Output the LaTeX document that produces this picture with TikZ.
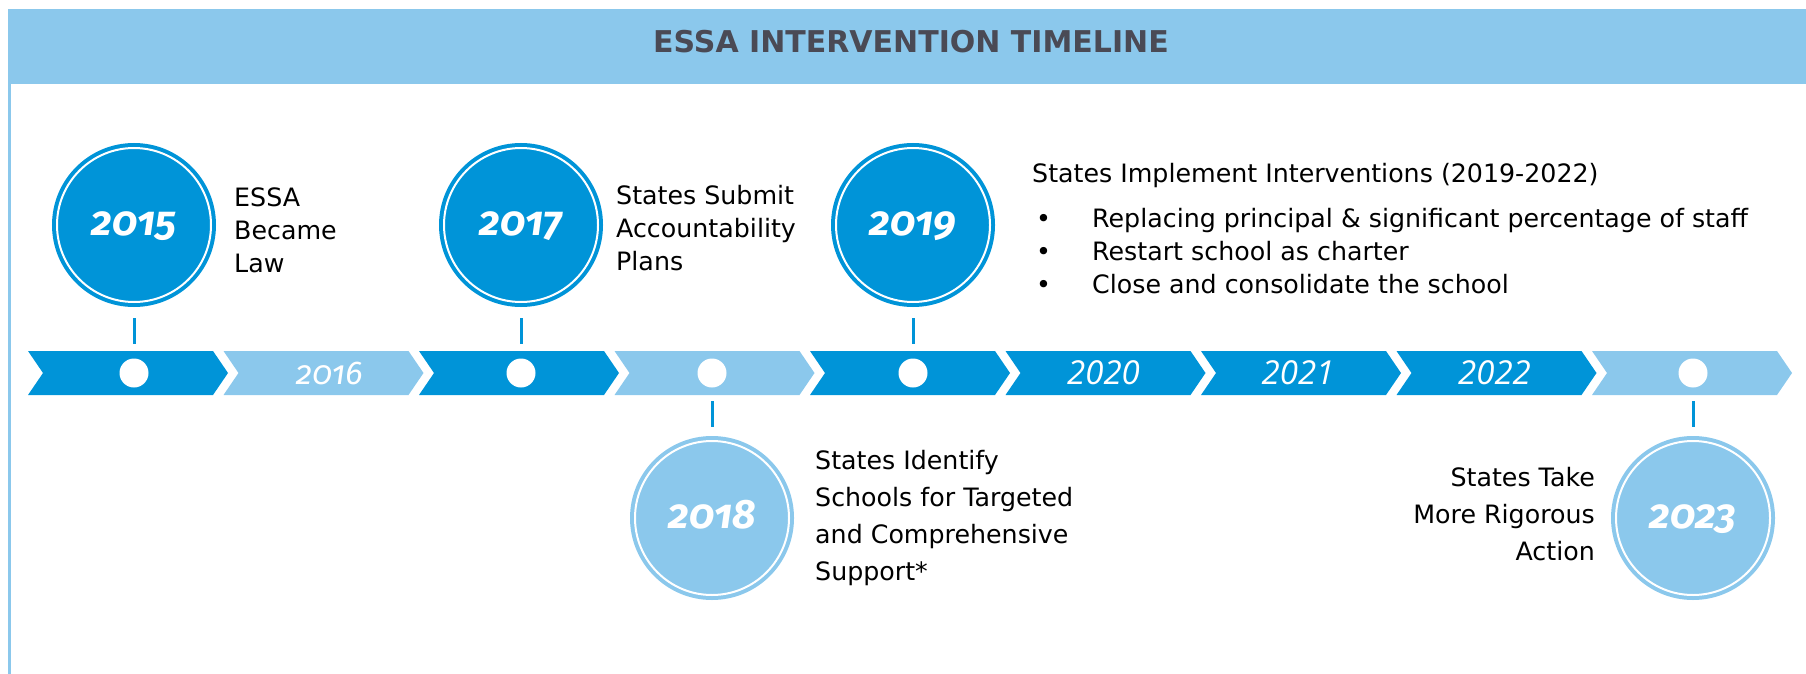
\documentclass[tikz,border=0pt]{standalone}
\usepackage{fontspec}
\setmainfont{DejaVu Sans}
\newfontfamily\yearfont[RawFeature=+onum]{Fira Sans}
\newfontfamily\bandfont{Open Sans}
\usetikzlibrary{positioning}
\definecolor{essadark}{RGB}{0,148,216}
\definecolor{essalight}{RGB}{139,200,236}
\definecolor{essatitle}{RGB}{74,74,85}

\begin{document}
\begin{tikzpicture}[x=1pt, y=-1pt,
		yearcircle/.style={circle, fill=#1, draw=#1, double=white, double distance=2pt,
		line width=4pt, minimum size=154pt, inner sep=0pt, outer sep=0pt, text=white,
		text height=21pt, text depth=0pt,
		font=\yearfont\bfseries\itshape\fontsize{41}{41}\selectfont},
		yeardot/.style={circle, fill=white, minimum size=29pt, inner sep=0pt},
		bandyear/.style={text=white, inner sep=0pt, font=\bandfont\itshape\fontsize{33}{33}\selectfont},
		tickline/.style={draw=essadark, line width=3pt},
		blurb/.style={inner sep=0pt, align=left, font=\fontsize{25.3}{33}\selectfont}]

	\useasboundingbox (0,0) rectangle (1806,674);
	\fill[essalight] (8,9) rectangle (1806,84);
	\draw[essalight, line width=3pt] (9.5,84) -- (9.5,674);
	\node[anchor=base, text=essatitle, font=\bfseries\fontsize{30}{30}\selectfont] (title) at (911,53) {ESSA INTERVENTION TIMELINE};

	\foreach \i/\col in {0/essadark,1/essalight,2/essadark,3/essalight,4/essadark,5/essadark,6/essadark,7/essadark,8/essalight}{
		\fill[\col] (28+195.5*\i,351) -- ++(185,0) -- ++(15,22) -- ++(-15,22) -- ++(-185,0) -- ++(15,-22) -- cycle;
		\coordinate (c\i) at (130+195.5*\i,373);
	}

	\node[yearcircle=essadark] (y2015) at (134,225) {2015};
	\node[yearcircle=essadark] (y2017) at (521,225) {2017};
	\node[yearcircle=essadark] (y2019) at (913,225) {2019};
	\node[yearcircle=essalight] (y2018) at (712,518) {2018};
	\node[yearcircle=essalight] (y2023) at (1693,518) {2023};

	\node[yeardot] (d2015) at (y2015 |- c0) {};
	\node[yeardot] (d2017) at (y2017 |- c2) {};
	\node[yeardot] (d2018) at (y2018 |- c3) {};
	\node[yeardot] (d2019) at (y2019 |- c4) {};
	\node[yeardot] (d2023) at (y2023 |- c8) {};

	\node[bandyear, font=\yearfont\itshape\fontsize{33}{33}\selectfont] (b2016) at ([xshift=4pt]c1) {2016};
	\node[bandyear] (b2020) at ([xshift=-4pt]c5) {2020};
	\node[bandyear] (b2021) at ([xshift=-5pt]c6) {2021};
	\node[bandyear] (b2022) at ([xshift=-4pt]c7) {2022};

	\draw[tickline, shorten <=14.5pt, shorten >=16pt] (d2015) -- (y2015);
	\draw[tickline, shorten <=14.5pt, shorten >=16pt] (d2017) -- (y2017);
	\draw[tickline, shorten <=14.5pt, shorten >=16pt] (d2019) -- (y2019);
	\draw[tickline, shorten <=13.5pt, shorten >=14pt] (d2018) -- (y2018);
	\draw[tickline, shorten <=13.5pt, shorten >=14pt] (d2023) -- (y2023);

	\node[blurb, anchor=base west] (t2015) at (234,272) {ESSA\\Became\\Law};
	\node[blurb, anchor=base west] (t2017) at (616,270) {States Submit\\Accountability\\Plans};
	\node[blurb, anchor=base west] (t2019) at (1032,182) {States Implement Interventions (2019-2022)};
	\node[blurb, anchor=base west] (steps) at (1036,293) {\makebox[56pt][l]{\textbullet}Replacing principal \& significant percentage of staff\\
		\makebox[56pt][l]{\textbullet}Restart school as charter\\
		\makebox[56pt][l]{\textbullet}Close and consolidate the school};
	\node[blurb, anchor=base west, font=\fontsize{25.3}{37}\selectfont] (t2018) at (815,580) {States Identify\\Schools for Targeted\\and Comprehensive\\Support*};
	\node[blurb, align=right, anchor=base east, font=\fontsize{25.3}{37}\selectfont] (t2023) at (1595,560) {States Take\\More Rigorous\\Action};
\end{tikzpicture}
\end{document}
